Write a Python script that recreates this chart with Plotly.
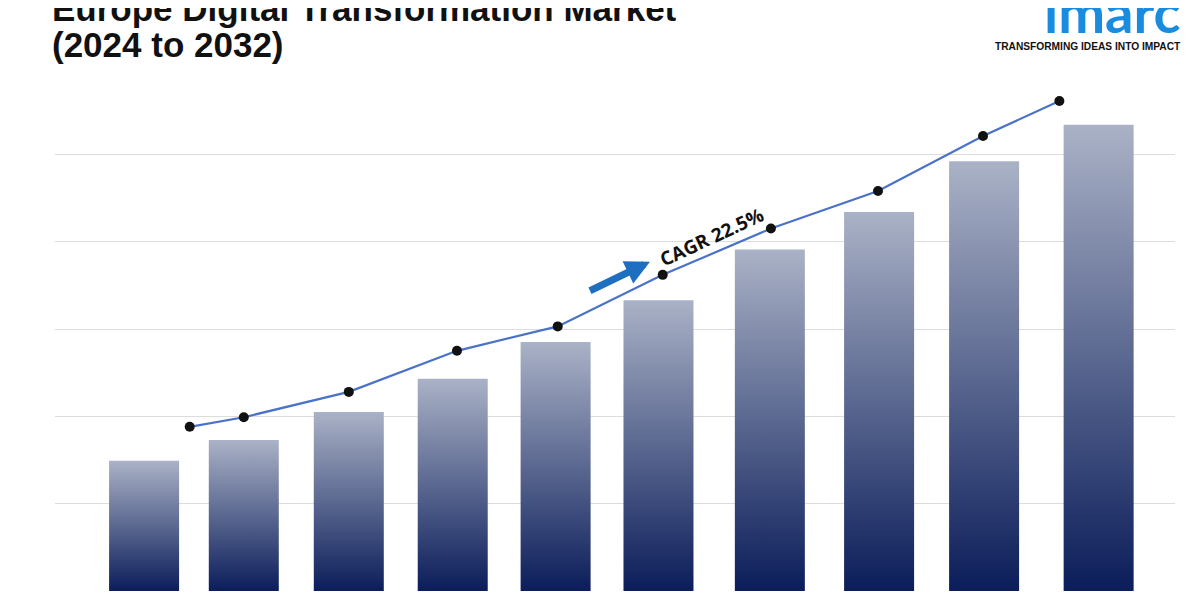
import plotly.graph_objects as go

years = ["2024","2025","2026","2027","2028","2029","2030","2031","2032","2033"]
bar_x = [0, 0.94, 1.93, 2.91, 3.88, 4.85, 5.90, 6.93, 7.92, 9.0]
bar_values = [1.49, 1.73, 2.05, 2.43, 2.85, 3.33, 3.91, 4.34, 4.92, 5.34]
line_x = [0.43, 0.94, 1.93, 2.95, 3.90, 4.89, 5.91, 6.92, 7.91, 8.63]
line_values = [1.88, 1.99, 2.28, 2.75, 3.03, 3.62, 4.15, 4.58, 5.21, 5.61]

fig = go.Figure()
hw = 0.33
for cx, v in zip(bar_x, bar_values):
    fig.add_trace(go.Scatter(
        x=[cx-hw, cx+hw, cx+hw, cx-hw, cx-hw], y=[0, 0, v, v, 0],
        mode="lines", line=dict(width=0), fill="toself",
        fillgradient=dict(type="vertical", colorscale=[[0, "#0b1d5a"], [1, "#aab2c6"]]),
        showlegend=False, hoverinfo="skip"))
fig.add_trace(go.Scatter(x=line_x, y=line_values, mode="lines+markers",
    line=dict(color="#4a72c9", width=2.2),
    marker=dict(color="#111", size=10), showlegend=False))

fig.add_annotation(x=4.77, y=3.77, ax=4.19, ay=3.43, xref="x", yref="y", axref="x", ayref="y",
    text="", showarrow=True, arrowhead=2, arrowsize=0.7, arrowwidth=7, arrowcolor="#1f6fc0")
fig.add_annotation(x=5.35, y=4.05, xref="x", yref="y", text="<b>CAGR 22.5%</b>", showarrow=False,
    textangle=-25, font=dict(family="Open Sans", size=19, color="#111"))

fig.add_annotation(x=-0.0045, y=1.112, xref="paper", yref="paper", xanchor="left", yanchor="middle",
    text="<b>Europe Digital Transformation Market</b>", showarrow=False, align="left",
    font=dict(family="Liberation Sans", size=35, color="#111"))
fig.add_annotation(x=-0.0045, y=1.042, xref="paper", yref="paper", xanchor="left", yanchor="middle",
    text="<b>(2024 to 2032)</b>", showarrow=False, align="left",
    font=dict(family="Liberation Sans", size=35, color="#111"))
fig.add_annotation(x=1.007, y=1.105, xref="paper", yref="paper", xanchor="right", yanchor="middle",
    text="<b>imarc</b>", showarrow=False, font=dict(family="Lato", size=56, color="#1a8ce0"))
fig.add_annotation(x=1.007, y=1.040, xref="paper", yref="paper", xanchor="right", yanchor="middle",
    text="<b>TRANSFORMING IDEAS INTO IMPACT</b>", showarrow=False,
    font=dict(family="Liberation Sans", size=10.2, color="#111"))

fig.update_layout(width=1200, height=600, margin=dict(l=47, r=33, t=59, b=17),
    plot_bgcolor="white", paper_bgcolor="white",
    xaxis=dict(range=[-0.84, 9.72], showgrid=False, showticklabels=False, zeroline=False),
    yaxis=dict(range=[0, 6], dtick=1, showgrid=True, gridcolor="#dcdcdc", showticklabels=False, zeroline=False))
fig.write_html("out.html")
